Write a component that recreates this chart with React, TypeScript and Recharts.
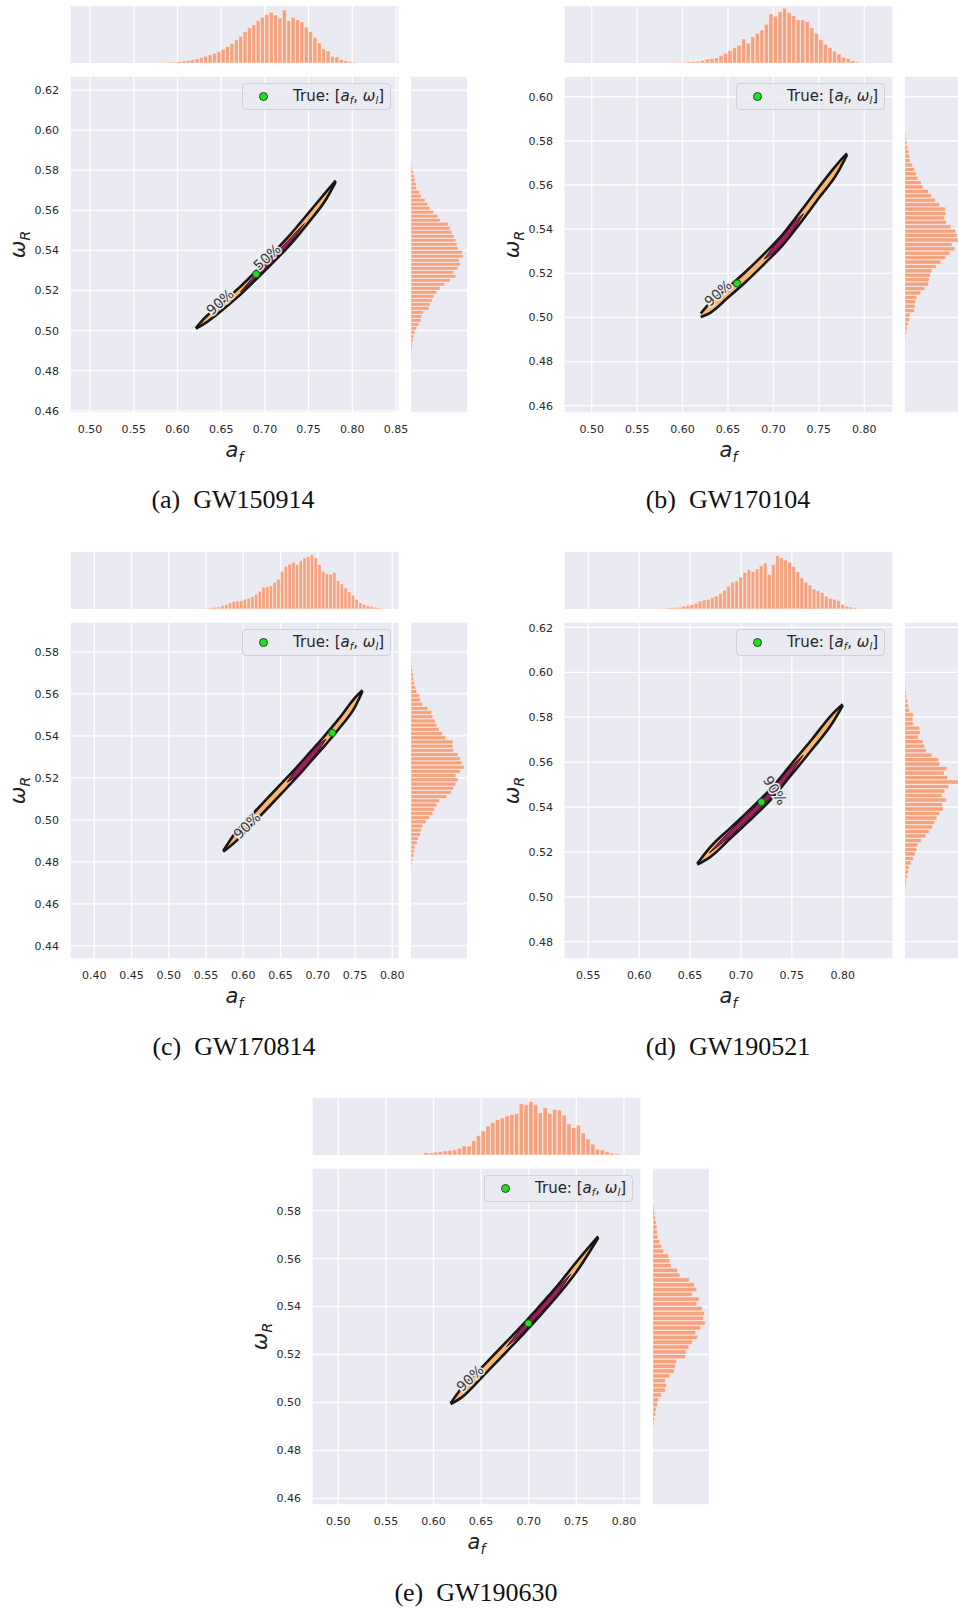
import React from "react";
import {
  ComposedChart,
  BarChart,
  Bar,
  Area,
  XAxis,
  YAxis,
  CartesianGrid,
  ReferenceDot,
} from "recharts";

// ---------- (a) GW150914 ----------
const aXTicks = [0.5, 0.55, 0.6, 0.65, 0.7, 0.75, 0.8, 0.85];
const aYTicks = [0.46, 0.48, 0.5, 0.52, 0.54, 0.56, 0.58, 0.6, 0.62];
const aXDomain = [0.477, 0.8534];
const aYDomain = [0.4589, 0.627];
const aTopStart = 0.58;
const aTopBin = 0.005;
const aTopCounts = [0.5, 0.8, 1.2, 1.8, 2.5, 3.5, 4.5, 6, 7.5, 10, 12, 14, 17, 20, 24, 29, 34, 41, 47, 55, 62, 67, 74, 80, 85, 89, 84, 79, 93, 74, 80, 76, 72, 63, 55, 45, 35, 25, 21, 12, 11, 6, 4, 2, 1.5];
const aSideStart = 0.486;
const aSideBin = 0.002;
const aSideCounts = [1, 1.5, 2, 2.5, 3.5, 5, 7, 10, 14, 18, 19, 22, 32, 34, 38, 41, 46, 52, 60, 70, 80, 76, 84, 88, 86, 93, 92, 84, 82, 80, 77, 73, 70, 66, 52, 48, 40, 34, 30, 25, 18, 15, 10, 9, 7, 6, 4, 2, 1.5, 1, 0.5];
const aAf90 = [0.621, 0.63, 0.65, 0.67, 0.69, 0.71, 0.73, 0.75, 0.77, 0.781];
const aLo90 = [0.501, 0.5032, 0.5098, 0.5172, 0.5256, 0.5343, 0.5434, 0.554, 0.5655, 0.5742];
const aHi90 = [0.5012, 0.5058, 0.5136, 0.5212, 0.5298, 0.539, 0.5484, 0.5588, 0.5692, 0.5748];
const aAf50 = [0.672, 0.69, 0.71, 0.73, 0.745];
const aLo50 = [0.5193, 0.5265, 0.5352, 0.5445, 0.5534];
const aHi50 = [0.5193, 0.5283, 0.5374, 0.5465, 0.5534];
const aTrue = [0.69, 0.5282];
const aLabels = [
  { text: "90%", a: 0.6486, w: 0.5143, angle: -42 },
  { text: "50%", a: 0.7024, w: 0.5367, angle: -42 },
];

// ---------- (b) GW170104 ----------
const bXTicks = [0.5, 0.55, 0.6, 0.65, 0.7, 0.75, 0.8];
const bYTicks = [0.46, 0.48, 0.5, 0.52, 0.54, 0.56, 0.58, 0.6];
const bXDomain = [0.4695, 0.8316];
const bYDomain = [0.4567, 0.6094];
const bTopStart = 0.59;
const bTopBin = 0.005;
const bTopCounts = [0.5, 1, 1.5, 2, 2.5, 3, 5, 7, 8, 9, 13, 17, 22, 27, 31, 42, 35, 46, 52, 58, 68, 86, 82, 90, 96, 88, 83, 76, 76, 73, 62, 52, 41, 33, 27, 21, 16, 10, 8, 4, 2, 1];
const bSideStart = 0.488;
const bSideBin = 0.002;
const bSideCounts = [0.5, 1.5, 2.5, 4, 5.5, 8, 9, 17, 18, 19, 21, 28, 35, 42, 43, 45, 48, 56, 64, 73, 80, 89, 84, 95, 93, 90, 82, 74, 70, 73, 72, 62, 54, 47, 42, 32, 29, 23, 20, 17, 13, 9, 8, 7, 5, 3.5, 2.5, 1.5];
const bAf90 = [0.62, 0.63, 0.65, 0.67, 0.69, 0.71, 0.73, 0.75, 0.77, 0.781];
const bLo90 = [0.5002, 0.502, 0.509, 0.5163, 0.5243, 0.5327, 0.543, 0.5541, 0.5652, 0.5737];
const bHi90 = [0.5018, 0.5066, 0.5136, 0.5209, 0.5289, 0.5375, 0.5481, 0.559, 0.5694, 0.5743];
const bAf50 = [0.69, 0.7, 0.71, 0.72, 0.733];
const bLo50 = [0.5265, 0.5293, 0.5334, 0.5385, 0.547];
const bHi50 = [0.5265, 0.5321, 0.5366, 0.5419, 0.547];
const bTrue = [0.66, 0.5154];
const bLabels = [{ text: "90%", a: 0.6391, w: 0.511, angle: -42 }];

// ---------- (c) GW170814 ----------
const cXTicks = [0.4, 0.45, 0.5, 0.55, 0.6, 0.65, 0.7, 0.75, 0.8];
const cYTicks = [0.44, 0.46, 0.48, 0.5, 0.52, 0.54, 0.56, 0.58];
const cXDomain = [0.3674, 0.809];
const cYDomain = [0.4338, 0.5942];
const cTopStart = 0.535;
const cTopBin = 0.005;
const cTopCounts = [0.5, 0.5, 1, 1.5, 2, 3, 4, 6, 8, 11, 13, 14, 15, 17, 19, 22, 26, 31, 38, 39, 41, 47, 52, 66, 75, 79, 82, 78, 85, 90, 92, 95, 90, 78, 66, 62, 61, 64, 50, 44, 37, 30, 24, 17, 11, 8, 6, 4.5, 3, 2, 1, 0.5];
const cSideStart = 0.472;
const cSideBin = 0.002;
const cSideCounts = [0.5, 0.5, 1, 1.5, 3, 5, 6, 7, 11, 13, 17, 18, 21, 27, 33, 39, 42, 46, 51, 64, 72, 76, 80, 84, 80, 88, 95, 91, 88, 84, 76, 75, 75, 62, 56, 50, 46, 43, 39, 37, 30, 21, 17, 15, 10, 8, 6, 5, 4, 3, 2, 1.5, 1];
const cAf90 = [0.573, 0.59, 0.61, 0.63, 0.65, 0.67, 0.69, 0.71, 0.73, 0.75, 0.76];
const cLo90 = [0.4848, 0.4898, 0.4972, 0.5046, 0.5121, 0.5196, 0.5276, 0.5356, 0.5441, 0.5538, 0.5612];
const cHi90 = [0.4852, 0.4942, 0.5018, 0.5094, 0.5169, 0.5244, 0.5324, 0.5404, 0.5489, 0.5582, 0.5618];
const cAf50 = [0.659, 0.67, 0.69, 0.7, 0.711];
const cLo50 = [0.518, 0.5205, 0.5284, 0.5326, 0.5385];
const cHi50 = [0.518, 0.5235, 0.5316, 0.5354, 0.5385];
const cTrue = [0.7194, 0.5414];
const cLabels = [{ text: "90%", a: 0.605, w: 0.4973, angle: -44 }];

// ---------- (d) GW190521 ----------
const dXTicks = [0.55, 0.6, 0.65, 0.7, 0.75, 0.8];
const dYTicks = [0.48, 0.5, 0.52, 0.54, 0.56, 0.58, 0.6, 0.62];
const dXDomain = [0.5261, 0.8494];
const dYDomain = [0.4723, 0.6224];
const dTopStart = 0.614;
const dTopBin = 0.004;
const dTopCounts = [0.5, 0.8, 1, 1.5, 2, 2.5, 3, 5, 6, 8, 10, 14, 16, 17, 20, 23, 27, 33, 40, 47, 49, 56, 64, 69, 66, 70, 76, 81, 61, 78, 94, 90, 86, 82, 75, 66, 55, 47, 42, 35, 32, 29, 23, 19, 17, 15, 8, 5, 3.5, 2, 1, 0.5];
const dSideStart = 0.502;
const dSideBin = 0.002;
const dSideCounts = [1, 2, 3, 4, 6, 7, 11, 15, 18, 21, 23, 29, 37, 43, 49, 53, 57, 62, 68, 67, 74, 66, 71, 78, 95, 76, 70, 75, 62, 60, 48, 38, 35, 32, 24, 27, 26, 15, 14, 15, 8, 6, 5, 3, 2, 1.5, 1, 0.5];
const dAf90 = [0.657, 0.67, 0.69, 0.71, 0.73, 0.75, 0.77, 0.79, 0.8];
const dLo90 = [0.5143, 0.5178, 0.5262, 0.5346, 0.5436, 0.5546, 0.5657, 0.5775, 0.5852];
const dHi90 = [0.5147, 0.5222, 0.5308, 0.5394, 0.5484, 0.5594, 0.5703, 0.5815, 0.5858];
const dAf50 = [0.669, 0.69, 0.71, 0.73, 0.75, 0.761];
const dLo50 = [0.5196, 0.5272, 0.5357, 0.5447, 0.5557, 0.563];
const dHi50 = [0.5196, 0.5298, 0.5383, 0.5473, 0.5583, 0.563];
const dTrue = [0.7202, 0.5422];
const dLabels = [{ text: "90%", a: 0.7334, w: 0.5474, angle: 58 }];

// ---------- (e) GW190630 ----------
const eXTicks = [0.5, 0.55, 0.6, 0.65, 0.7, 0.75, 0.8];
const eYTicks = [0.46, 0.48, 0.5, 0.52, 0.54, 0.56, 0.58];
const eXDomain = [0.4724, 0.8179];
const eYDomain = [0.4572, 0.5978];
const eTopStart = 0.565;
const eTopBin = 0.005;
const eTopCounts = [0.3, 0.5, 0.5, 0.8, 1, 4, 3.5, 5, 6, 7, 8, 9, 12, 16, 16, 25, 34, 42, 51, 57, 62, 65, 69, 71, 73, 90, 88, 94, 88, 74, 83, 73, 80, 79, 70, 55, 48, 52, 39, 28, 19, 10, 9, 6, 3.5, 2, 1, 0.5];
const eSideStart = 0.484;
const eSideBin = 0.002;
const eSideCounts = [0.5, 1, 1, 2, 3, 5, 6, 8, 10, 15, 22, 24, 22, 30, 38, 40, 42, 58, 59, 64, 70, 80, 76, 85, 93, 90, 92, 88, 78, 82, 70, 78, 74, 65, 48, 44, 32, 30, 28, 19, 15, 12, 9, 8, 7, 6, 4, 3, 2, 1];
const eAf90 = [0.618, 0.63, 0.65, 0.67, 0.69, 0.71, 0.73, 0.75, 0.773];
const eLo90 = [0.4993, 0.5022, 0.5101, 0.5184, 0.5267, 0.5354, 0.5444, 0.5544, 0.5687];
const eHi90 = [0.4997, 0.5062, 0.5143, 0.5226, 0.5309, 0.5396, 0.5486, 0.5586, 0.5693];
const eAf50 = [0.677, 0.69, 0.71, 0.73, 0.744];
const eLo50 = [0.5234, 0.5277, 0.5363, 0.5453, 0.5535];
const eHi50 = [0.5234, 0.5299, 0.5387, 0.5477, 0.5535];
const eTrue = [0.6996, 0.533];
const eLabels = [{ text: "90%", a: 0.6384, w: 0.5101, angle: -43 }];

// ---------- layout / style ----------
const PW = 329; // main plot width
const PH = 337; // main plot height
const HIST_H = 57;
const HIST_GAP = 13;
const SIDE_GAP = 12;
const SIDE_W = 56;
const AX_L = 72; // room for y ticks + y label
const AX_R = 22; // room for the last x tick label
const AX_B = 60;
const FONT = "'DejaVu Sans', sans-serif";
const BG = "#EAEAF2";
const HIST = "#F5A27F";
const TICK = { fontSize: 11, fill: "#2a2a2a", fontFamily: FONT };

const bins = (start: number, bin: number, counts: number[]) =>
  counts.map((v, i) => ({ c: start + (i + 0.5) * bin, v }));
const band = (af: number[], lo: number[], hi: number[]) =>
  af.map((a, i) => ({ a, b: [lo[i], hi[i]] }));

const panels = [
  {
    id: "a", caption: "(a)", name: "GW150914", left: 70, top: 76, capX: 233, capY: 508,
    xTicks: aXTicks, yTicks: aYTicks, xDomain: aXDomain, yDomain: aYDomain,
    top_: bins(aTopStart, aTopBin, aTopCounts), topBin: aTopBin,
    side: bins(aSideStart, aSideBin, aSideCounts), sideBin: aSideBin,
    c90: band(aAf90, aLo90, aHi90), c50: band(aAf50, aLo50, aHi50), truth: aTrue, labels: aLabels,
  },
  {
    id: "b", caption: "(b)", name: "GW170104", left: 564, top: 76, capX: 728, capY: 508,
    xTicks: bXTicks, yTicks: bYTicks, xDomain: bXDomain, yDomain: bYDomain,
    top_: bins(bTopStart, bTopBin, bTopCounts), topBin: bTopBin,
    side: bins(bSideStart, bSideBin, bSideCounts), sideBin: bSideBin,
    c90: band(bAf90, bLo90, bHi90), c50: band(bAf50, bLo50, bHi50), truth: bTrue, labels: bLabels,
  },
  {
    id: "c", caption: "(c)", name: "GW170814", left: 70, top: 622, capX: 234, capY: 1055,
    xTicks: cXTicks, yTicks: cYTicks, xDomain: cXDomain, yDomain: cYDomain,
    top_: bins(cTopStart, cTopBin, cTopCounts), topBin: cTopBin,
    side: bins(cSideStart, cSideBin, cSideCounts), sideBin: cSideBin,
    c90: band(cAf90, cLo90, cHi90), c50: band(cAf50, cLo50, cHi50), truth: cTrue, labels: cLabels,
  },
  {
    id: "d", caption: "(d)", name: "GW190521", left: 564, top: 622, capX: 728, capY: 1055,
    xTicks: dXTicks, yTicks: dYTicks, xDomain: dXDomain, yDomain: dYDomain,
    top_: bins(dTopStart, dTopBin, dTopCounts), topBin: dTopBin,
    side: bins(dSideStart, dSideBin, dSideCounts), sideBin: dSideBin,
    c90: band(dAf90, dLo90, dHi90), c50: band(dAf50, dLo50, dHi50), truth: dTrue, labels: dLabels,
  },
  {
    id: "e", caption: "(e)", name: "GW190630", left: 312, top: 1168, capX: 476, capY: 1601,
    xTicks: eXTicks, yTicks: eYTicks, xDomain: eXDomain, yDomain: eYDomain,
    top_: bins(eTopStart, eTopBin, eTopCounts), topBin: eTopBin,
    side: bins(eSideStart, eSideBin, eSideCounts), sideBin: eSideBin,
    c90: band(eAf90, eLo90, eHi90), c50: band(eAf50, eLo50, eHi50), truth: eTrue, labels: eLabels,
  },
];

type Panel = (typeof panels)[number];

const XLabel = (props: any) => {
  const { x, y, width } = props.viewBox;
  return (
    <text x={x + width / 2} y={y + 44} textAnchor="middle" fontFamily={FONT} fontSize={21} fill="#222">
      <tspan fontStyle="italic">a</tspan>
      <tspan fontStyle="italic" fontSize={14} dy={5}>f</tspan>
    </text>
  );
};

const YLabel = (props: any) => {
  const { x, y, width, height } = props.viewBox;
  const cx = x + width - 45; // baseline of the rotated label
  const cy = y + height / 2;
  return (
    <text x={cx} y={cy} transform={`rotate(-90, ${cx}, ${cy})`} textAnchor="middle" fontFamily={FONT} fontSize={21} fill="#222">
      <tspan fontStyle="italic">ω</tspan>
      <tspan fontStyle="italic" fontSize={14} dy={5}>R</tspan>
    </text>
  );
};

const pctLabel = (text: string, angle: number) => (props: any) => {
  const { x, y, width, height } = props.viewBox;
  const cx = x + width / 2;
  const cy = y + height / 2;
  return (
    <text
      x={cx}
      y={cy}
      transform={`rotate(${angle}, ${cx}, ${cy})`}
      textAnchor="middle"
      dominantBaseline="central"
      fontFamily={FONT}
      fontSize={14}
      fill="#3a3a3a"
      stroke={BG}
      strokeWidth={3}
      paintOrder="stroke"
    >
      {text}
    </text>
  );
};

const PanelView = ({ p }: { p: Panel }) => {
  const topBar = (PW * p.topBin) / (p.xDomain[1] - p.xDomain[0]);
  const sideBar = (PH * p.sideBin) / (p.yDomain[1] - p.yDomain[0]);
  return (
    <>
      {/* top marginal histogram */}
      <div style={{ position: "absolute", left: p.left, top: p.top - HIST_GAP - HIST_H }}>
        <BarChart width={PW} height={HIST_H} data={p.top_} margin={{ top: 0, right: 0, bottom: 0, left: 0 }} barCategoryGap={0} barGap={0}>
          <CartesianGrid fill={BG} stroke="#fff" strokeWidth={1.3} horizontal={false} />
          <XAxis type="number" dataKey="c" domain={p.xDomain} ticks={p.xTicks} allowDataOverflow hide />
          <YAxis type="number" domain={[0, 100]} hide />
          <Bar dataKey="v" fill={HIST} stroke="#fff" strokeWidth={0.4} barSize={topBar} isAnimationActive={false} />
        </BarChart>
      </div>

      {/* main joint plot */}
      <div style={{ position: "absolute", left: p.left - AX_L, top: p.top }}>
        <ComposedChart width={AX_L + PW + AX_R} height={PH + AX_B} margin={{ top: 0, right: AX_R, bottom: 0, left: 0 }}>
          <CartesianGrid fill={BG} stroke="#fff" strokeWidth={1.3} />
          <XAxis
            type="number"
            dataKey="a"
            domain={p.xDomain}
            ticks={p.xTicks}
            allowDataOverflow
            height={AX_B}
            axisLine={false}
            tickLine={false}
            tickSize={6}
            tickMargin={6}
            tick={TICK}
            tickFormatter={(v: number) => v.toFixed(2)}
            label={{ content: XLabel }}
          />
          <YAxis
            type="number"
            domain={p.yDomain}
            ticks={p.yTicks}
            allowDataOverflow
            width={AX_L}
            axisLine={false}
            tickLine={false}
            tickSize={6}
            tickMargin={5}
            tick={TICK}
            tickFormatter={(v: number) => v.toFixed(2)}
            label={{ content: YLabel }}
          />
          <Area
            data={p.c90}
            type="monotone"
            dataKey="b"
            fill="#F8B66F"
            fillOpacity={1}
            stroke="#161616"
            strokeWidth={2.6}
            connectNulls
            isAnimationActive={false}
          />
          <Area
            data={p.c50}
            type="monotone"
            dataKey="b"
            fill="#9E1F5E"
            fillOpacity={1}
            stroke="#3d0c2c"
            strokeWidth={1}
            connectNulls
            isAnimationActive={false}
          />
          {p.labels.map((l) => (
            <ReferenceDot
              key={l.text}
              x={l.a}
              y={l.w}
              r={1}
              fill="none"
              stroke="none"
              label={{ content: pctLabel(l.text, l.angle) }}
            />
          ))}
          <ReferenceDot x={p.truth[0]} y={p.truth[1]} r={3.6} fill="#22DD22" stroke="#1d4d1d" strokeWidth={1} />
        </ComposedChart>
      </div>

      {/* legend */}
      <div
        style={{
          position: "absolute",
          left: p.left + PW - 8 - 149,
          top: p.top + 7,
          width: 147,
          height: 25,
          border: "1px solid #d0d0d8",
          borderRadius: 4,
          background: "rgba(234,234,242,0.85)",
          fontFamily: FONT,
          fontSize: 15,
          color: "#262626",
          lineHeight: "25px",
        }}
      >
        <span
          style={{
            position: "absolute",
            left: 16,
            top: 8,
            width: 7,
            height: 7,
            borderRadius: "50%",
            background: "#22DD22",
            border: "1px solid #1d4d1d",
          }}
        />
        <span style={{ position: "absolute", left: 50, top: 0, whiteSpace: "nowrap" }}>
          True: [<i>a</i>
          <span style={{ fontSize: 10, fontStyle: "italic", position: "relative", top: 3 }}>f</span>,{" "}
          <i>ω</i>
          <span style={{ fontSize: 10, fontStyle: "italic", position: "relative", top: 3 }}>l</span>]
        </span>
      </div>

      {/* right marginal histogram */}
      <div style={{ position: "absolute", left: p.left + PW + SIDE_GAP, top: p.top }}>
        <BarChart layout="vertical" width={SIDE_W} height={PH} data={p.side} margin={{ top: 0, right: 0, bottom: 0, left: 0 }} barCategoryGap={0} barGap={0}>
          <CartesianGrid fill={BG} stroke="#fff" strokeWidth={1.3} vertical={false} />
          <XAxis type="number" domain={[0, 100]} hide />
          <YAxis type="number" dataKey="c" domain={p.yDomain} ticks={p.yTicks} allowDataOverflow reversed hide />
          <Bar dataKey="v" fill={HIST} stroke="#fff" strokeWidth={0.4} barSize={sideBar} isAnimationActive={false} />
        </BarChart>
      </div>

      {/* caption */}
      <div
        style={{
          position: "absolute",
          left: p.capX - 150,
          top: p.capY - 23,
          width: 300,
          textAlign: "center",
          fontFamily: "'Liberation Serif', serif",
          fontSize: 26,
          lineHeight: "30px",
          color: "#111",
          whiteSpace: "pre",
        }}
      >
        {p.caption + "\u2002" + p.name}
      </div>
    </>
  );
};

export default function App() {
  return (
    <div
      style={{
        position: "absolute",
        left: 0,
        top: 0,
        width: 958,
        height: 1609,
        overflow: "hidden",
        background: "#fff",
      }}
    >
      {panels.map((p) => (
        <PanelView key={p.id} p={p} />
      ))}
    </div>
  );
}
